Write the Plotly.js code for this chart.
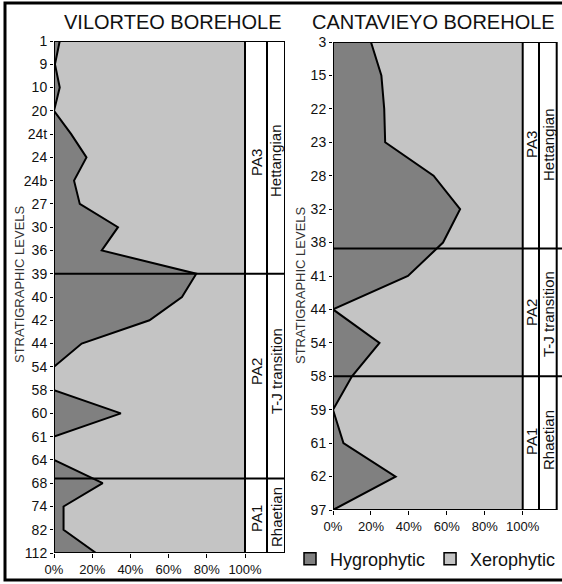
<!DOCTYPE html>
<html>
<head>
<meta charset="utf-8">
<script src="https://cdn.plot.ly/plotly-3.0.1.min.js"></script>
<style>html,body{margin:0;padding:0;background:#fff;}#chart{width:562px;height:584px;}</style>
</head>
<body>
<div id="chart"></div>
<script>
// ---- data ----
var vilLevels = ['1','9','10','20','24t','24','24b','27','30','36','39','40','42','44','54','58','60','61','64','68','74','82','112'];
var vilHygro  = [3, 0.5, 3, 0, 9, 17, 10.5, 13.5, 33.5, 25, 74.5, 67, 50, 14.5, 0, 0, 35, 0, 0, 25.5, 5, 5, 22];
var vilXero   = [97, 99.5, 97, 100, 91, 83, 89.5, 86.5, 66.5, 75, 25.5, 33, 50, 85.5, 100, 100, 65, 100, 100, 74.5, 95, 95, 78];

var canLevels = ['3','15','22','23','28','32','38','41','44','54','58','59','61','62','97'];
var canHygro  = [20, 25.5, 27, 27.5, 53, 67, 58, 39.5, 0, 24.5, 10, 0, 5.5, 33, 0];
var canXero   = [80, 74.5, 73, 72.5, 47, 33, 42, 60.5, 100, 75.5, 90, 100, 94.5, 67, 100];

var xTicks = [0, 20, 40, 60, 80, 100];
var xTickLabels = ['0%', '20%', '40%', '60%', '80%', '100%'];
var seriesNames = ['Hygrophytic', 'Xerophytic'];
var titles = ['VILORTEO BOREHOLE', 'CANTAVIEYO BOREHOLE'];
var yTitle = 'STRATIGRAPHIC LEVELS';
var zoneLabels = ['PA3', 'PA2', 'PA1'];
var ageLabels = ['Hettangian', 'T-J transition', 'Rhaetian'];

// ---- helpers ----
var W = 562, H = 584;
function px(x){ return x / W; }
function py(y){ return 1 - y / H; }
var FONT = '"Liberation Sans", Arial, Helvetica, sans-serif';
var NARROW = '"Liberation Sans Narrow", "Arial Narrow", "Liberation Sans", Arial, sans-serif';
var DARK = '#808080', LIGHT = '#c4c4c4';

var traces = [
  {type:'scatter', x: vilHygro, y: vilLevels, xaxis:'x', yaxis:'y', stackgroup:'v', orientation:'h',
   mode:'lines', line:{color:'#000', width:2}, fillcolor: DARK, showlegend:false, hoverinfo:'skip', name: seriesNames[0]},
  {type:'scatter', x: vilXero, y: vilLevels, xaxis:'x', yaxis:'y', stackgroup:'v', orientation:'h',
   mode:'lines', line:{color:'rgba(0,0,0,0)', width:0}, fillcolor: LIGHT, showlegend:false, hoverinfo:'skip', name: seriesNames[1]},
  {type:'scatter', x: canHygro, y: canLevels, xaxis:'x2', yaxis:'y2', stackgroup:'c', orientation:'h',
   mode:'lines', line:{color:'#000', width:2}, fillcolor: DARK, showlegend:false, hoverinfo:'skip', name: seriesNames[0]},
  {type:'scatter', x: canXero, y: canLevels, xaxis:'x2', yaxis:'y2', stackgroup:'c', orientation:'h',
   mode:'lines', line:{color:'rgba(0,0,0,0)', width:0}, fillcolor: LIGHT, showlegend:false, hoverinfo:'skip', name: seriesNames[1]},
  // legend entries
  {type:'bar', x:[null], y:[null], xaxis:'x3', yaxis:'y3', name: seriesNames[0],
   marker:{color: DARK, line:{color:'#000', width:1.5}}, showlegend:true, hoverinfo:'skip'},
  {type:'bar', x:[null], y:[null], xaxis:'x3', yaxis:'y3', name: seriesNames[1],
   marker:{color: LIGHT, line:{color:'#000', width:1.5}}, showlegend:true, hoverinfo:'skip'}
];

var vEnd = (285 - 54) / 1.91;     // left panel right edge in % units
var vPA  = (267 - 54) / 1.91;
var cEnd = (556.7 - 333) / 1.897; // right panel box edge
var cPA  = (539 - 333) / 1.897;
var cMax = (562 - 333) / 1.897;

function xaxisDef(domain, range, anchor){
  return {domain: domain, range: range, anchor: anchor, tickmode:'array', tickvals: xTicks, ticktext: xTickLabels,
    ticks:'outside', ticklen:4, tickwidth:1, tickcolor:'#000', showgrid:false, zeroline:false,
    showline:false, tickfont:{family: NARROW, size:13, color:'#111'}, fixedrange:true};
}
function yaxisDef(domain, n, anchor){
  return {domain: domain, type:'category', range:[n - 1, 0], anchor: anchor,
    ticks:'outside', ticklen:3, tickwidth:1, tickcolor:'#000', showgrid:false, zeroline:false,
    showline:false, tickfont:{family: FONT, size:14, color:'#111'}, fixedrange:true};
}

var shapes = [];
function line(xref, yref, x0, y0, x1, y1, w){
  shapes.push({type:'line', xref:xref, yref:yref, x0:x0, y0:y0, x1:x1, y1:y1, line:{color:'#000', width:w||2}, layer:'above'});
}
// left panel box + columns
shapes.push({type:'rect', xref:'x', yref:'y', x0:0, x1:vEnd, y0:0, y1:vilLevels.length-1, line:{color:'#000', width:2}, layer:'above'});
line('x','y',100,0,100,vilLevels.length-1);
line('x','y',vPA,0,vPA,vilLevels.length-1);
line('x','y',0,10,vEnd,10);
line('x','y',0,18.8,vEnd,18.8);
// right panel box + columns
shapes.push({type:'rect', xref:'x2', yref:'y2', x0:0, x1:cEnd, y0:0, y1:canLevels.length-1, line:{color:'#000', width:2}, layer:'above'});
line('x2','y2',100,0,100,canLevels.length-1);
line('x2','y2',cPA,0,cPA,canLevels.length-1);
line('x2','y2',0,6.18,cMax,6.18);
line('x2','y2',0,10,cMax,10);
// outer frame
shapes.push({type:'rect', xref:'paper', yref:'paper', x0:px(5), x1:px(566), y0:py(580), y1:py(3), line:{color:'#000', width:3}, layer:'above'});

var annotations = [];
function ann(text, x, y, size, angle, color){
  annotations.push({text:text, xref:'paper', yref:'paper', x:px(x), y:py(y), xanchor:'center', yanchor:'middle',
    showarrow:false, textangle: angle||0, font:{family: FONT, size:size, color:color||'#111'}});
}
ann(titles[0], 172, 22, 20);
ann(titles[1], 433, 22, 20);
ann(yTitle, 20, 284, 13, -90, '#333');
ann(yTitle, 300, 285, 13, -90, '#333');
ann(zoneLabels[0], 256, 163, 15, -90);
ann(ageLabels[0], 276, 161, 15, -90);
ann(zoneLabels[1], 256, 372, 15, -90);
ann(ageLabels[1], 276, 371, 15, -90);
ann(zoneLabels[2], 256, 519, 15, -90);
ann(ageLabels[2], 276, 517, 15, -90);
ann(zoneLabels[0], 531, 145, 15, -90);
ann(ageLabels[0], 548, 145, 15, -90);
ann(zoneLabels[1], 531, 313, 15, -90);
ann(ageLabels[1], 548, 314, 15, -90);
ann(zoneLabels[2], 531, 442, 15, -90);
ann(ageLabels[2], 548, 440, 15, -90);

var layout = {
  width: W, height: H,
  margin:{l:0, r:0, t:0, b:0, pad:0},
  paper_bgcolor:'#fff', plot_bgcolor:'rgba(0,0,0,0)',
  font:{family: FONT, color:'#111'},
  showlegend:true,
  legend:{orientation:'h', traceorder:'normal', x:px(290), y:py(559), xanchor:'left', yanchor:'middle',
    font:{family: FONT, size:18, color:'#111'}, bgcolor:'rgba(0,0,0,0)', borderwidth:0,
    itemwidth:30, tracegroupgap:0, itemclick:false, itemdoubleclick:false},
  xaxis: xaxisDef([px(54), px(285)], [0, vEnd], 'y'),
  yaxis: yaxisDef([py(553), py(41)], vilLevels.length, 'x'),
  xaxis2: xaxisDef([px(333), 1], [0, cMax], 'y2'),
  yaxis2: yaxisDef([py(510), py(42)], canLevels.length, 'x2'),
  xaxis3: {domain:[0, 0.01], visible:false, anchor:'y3'},
  yaxis3: {domain:[0, 0.01], visible:false, anchor:'x3'},
  shapes: shapes,
  annotations: annotations
};

Plotly.newPlot('chart', traces, layout, {staticPlot:true, displayModeBar:false});
</script>
</body>
</html>
